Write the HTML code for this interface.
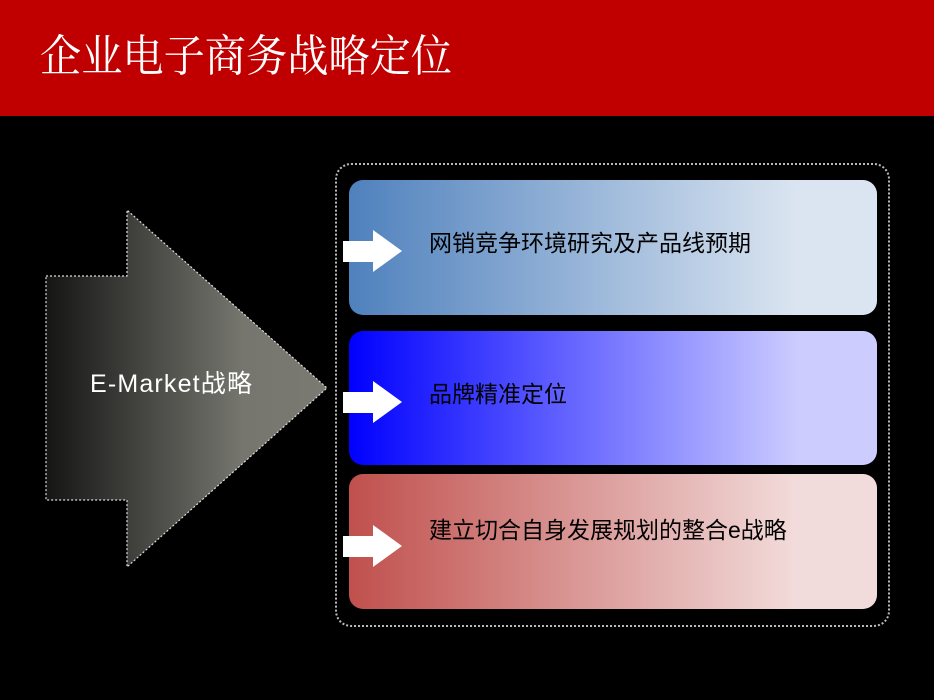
<!DOCTYPE html>
<html><head><meta charset="utf-8"><style>
body{margin:0;width:950px;height:700px;background:#fff;overflow:hidden;position:relative;font-family:"Liberation Sans","Noto Sans CJK SC",sans-serif}
#s{position:absolute;left:0;top:0;width:934px;height:700px;background:#000}
#h{position:absolute;left:0;top:0;width:934px;height:116px;background:#c00000}
.c{position:absolute;left:335px;top:163px;width:551px;height:460px;border:2px dotted #bbb;border-radius:16px}
.b{position:absolute;left:349px;width:528px;border-radius:14px}
.tx{position:absolute;left:429px;font-size:23px;line-height:26px;color:#000;white-space:nowrap}
</style></head><body>
<div id="s"></div><div id="h"></div>
<svg style="position:absolute;left:0;top:0" width="950" height="700">
<text x="40" y="71" fill="#fff" font-size="44" textLength="412" lengthAdjust="spacingAndGlyphs" font-family="Liberation Serif,Noto Serif CJK SC,serif">企业电子商务战略定位</text>
<defs><linearGradient id="g" x1="46" x2="327" y1="0" y2="0" gradientUnits="userSpaceOnUse"><stop offset="0" stop-color="#151515"/><stop offset="0.7" stop-color="#76766f"/><stop offset="1" stop-color="#7a7a72"/></linearGradient></defs>
<polygon points="46,276 127,276 127,210 327,388 127,567 127,500 46,500" fill="url(#g)" stroke="#ddd" stroke-width="1.2" stroke-dasharray="2,2"/>
<text x="171" y="392" text-anchor="middle" fill="#fff" font-size="25" textLength="162" font-family="Liberation Sans,Noto Sans CJK SC,sans-serif">E-Market战略</text>
</svg>
<div class="c"></div>
<div class="b" style="top:180px;height:135px;background:linear-gradient(90deg,#4f81bd,#dbe5f1 85%)"></div>
<div class="b" style="top:331px;height:134px;background:linear-gradient(90deg,#0000ff,#ccccff 85%)"></div>
<div class="b" style="top:474px;height:135px;background:linear-gradient(90deg,#c0504d,#f2dcdb 85%)"></div>
<svg style="position:absolute;left:0;top:0" width="950" height="700">
<polygon points="343,241 373,241 373,230 402,251 373,272 373,262 343,262" fill="#fff"/>
<polygon points="343,392 373,392 373,381 402,402 373,423 373,413 343,413" fill="#fff"/>
<polygon points="343,536 373,536 373,525 402,546 373,567 373,557 343,557" fill="#fff"/>
</svg>
<div class="tx" style="top:230px">网销竞争环境研究及产品线预期</div>
<div class="tx" style="top:381px">品牌精准定位</div>
<div class="tx" style="top:517px">建立切合自身发展规划的整合e战略</div>
</body></html>
